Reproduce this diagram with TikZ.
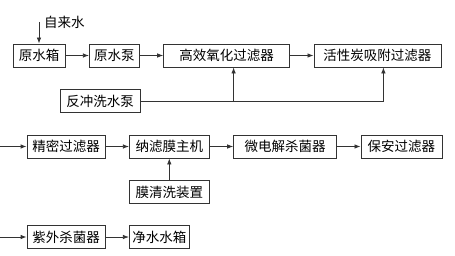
\documentclass[tikz,border=0pt]{standalone}
\usepackage{fontspec}
\setmainfont{Noto Sans CJK SC}
\usetikzlibrary{positioning,arrows.meta}

\begin{document}
\begin{tikzpicture}[
    x=1pt, y=1pt,
    node distance=23.5pt,
    box/.style={rectangle, draw=black!80, line width=0.8pt, minimum height=23pt, inner sep=2pt, font=\fontsize{13.5}{15}\selectfont},
    arrow/.style={line width=0.8pt, draw=black!80, -{Latex[length=6pt,width=4.5pt]}}
]
\useasboundingbox (0,0) rectangle (455,255);

% Nodes
\node (yuanxiang) [box, minimum width=52pt] at (39,199.5) {原水箱};
\node (yuanbeng) [box, minimum width=50pt, right=of yuanxiang] {原水泵};
\node (gaoxiao) [box, minimum width=126pt, right=of yuanbeng] {高效氧化过滤器};
\node (huoxingtan) [box, minimum width=127pt, right=of gaoxiao] {活性炭吸附过滤器};
\node (fanchong) [box, minimum width=80pt] at (100,154) {反冲洗水泵};

\node (jingmi) [box, minimum width=78pt] at (66,108.5) {精密过滤器};
\node (nalv) [box, minimum width=80pt, right=of jingmi] {纳滤膜主机};
\node (weidian) [box, minimum width=103pt, right=of nalv] {微电解杀菌器};
\node (baoan) [box, minimum width=81pt, right=of weidian] {保安过滤器};
\node (moqingxi) [box, minimum width=80pt, below=22pt of nalv] {膜清洗装置};

\node (ziwai) [box, minimum width=78pt] at (66,18) {紫外杀菌器};
\node (jingshui) [box, minimum width=60pt, right=of ziwai] {净水水箱};

% Free ends
\coordinate (zilai) at (39,233);
\node (zilailabel) [anchor=west, inner sep=0pt, font=\fontsize{13.5}{15}\selectfont] at (44,233) {自来水};
\coordinate [left=27pt of jingmi] (in2);
\coordinate [left=27pt of ziwai] (in3);

% Arrows
\draw [arrow] (zilai) -- (yuanxiang);
\draw [arrow] (yuanxiang) -- (yuanbeng);
\draw [arrow] (yuanbeng) -- (gaoxiao);
\draw [arrow] (gaoxiao) -- (huoxingtan);
\draw [arrow] (fanchong.east) -| ([xshift=7pt]gaoxiao.south);
\draw [arrow] (fanchong.east) -| ([xshift=6pt]huoxingtan.south);

\draw [arrow] (in2) -- (jingmi);
\draw [arrow] (jingmi) -- (nalv);
\draw [arrow] (nalv) -- (weidian);
\draw [arrow] (weidian) -- (baoan);
\draw [arrow] (moqingxi) -- (nalv);

\draw [arrow] (in3) -- (ziwai);
\draw [arrow] (ziwai) -- (jingshui);

\end{tikzpicture}
\end{document}
